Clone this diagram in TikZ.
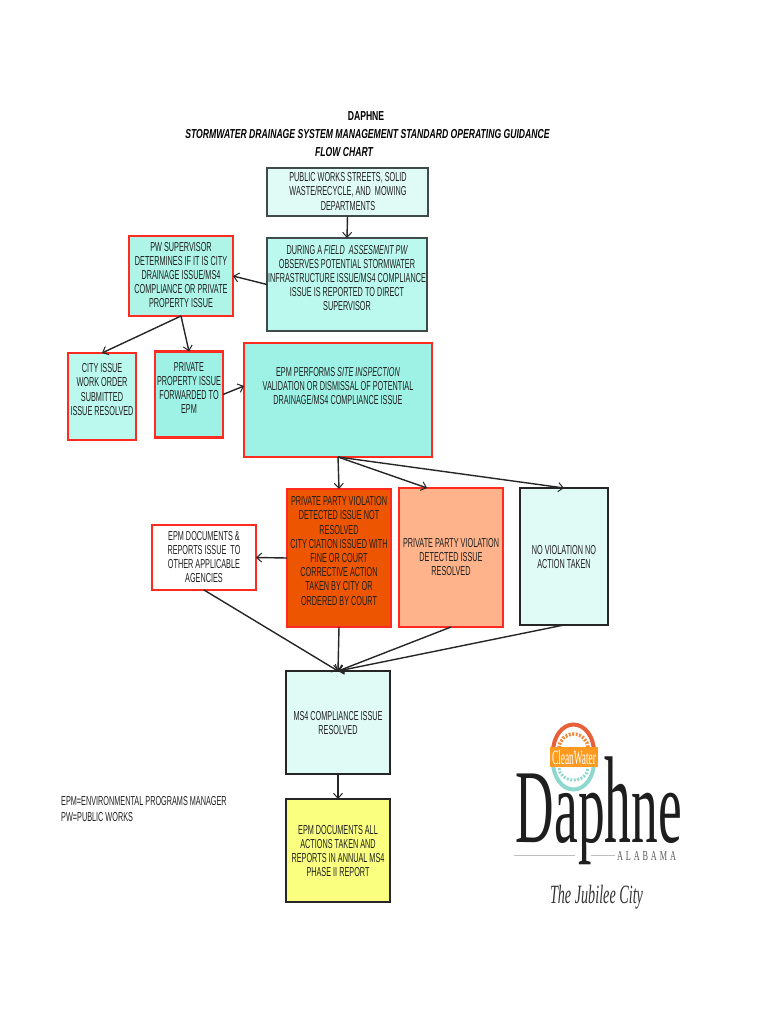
\documentclass[tikz,border=0pt]{standalone}
\usepackage{fontspec}
\usepackage{graphicx}
\usetikzlibrary{arrows.meta,calc,shapes.geometric}
\setmainfont{Liberation Serif}
\newfontfamily\nf[FakeStretch=0.56]{Liberation Sans}
\newfontfamily\nftitle[FakeStretch=0.663]{Liberation Sans}
\definecolor{txt}{HTML}{202020}
\definecolor{redline}{HTML}{FF2A20}
\definecolor{greyline}{HTML}{3F4A4A}
\definecolor{paleaqua}{HTML}{E0FAF6}
\definecolor{midaqua}{HTML}{BBF9EE}
\definecolor{pwaqua}{HTML}{AEF5E8}
\definecolor{deepaqua}{HTML}{9EF2E5}
\definecolor{burnt}{HTML}{EE5500}
\definecolor{peach}{HTML}{FFB38A}
\definecolor{lemon}{HTML}{FAFF7F}
\definecolor{logoorange}{HTML}{F08A3C}
\definecolor{logored}{HTML}{E8603A}
\definecolor{logoteal}{HTML}{8FD8D0}
\definecolor{banner}{HTML}{FF9A20}
\definecolor{logoink}{HTML}{1E1E1E}
\tikzset{
  box/.style={rectangle,inner sep=0pt,outer sep=0pt},
  greybox/.style={box,draw=greyline,line width=1.4pt},
  redbox/.style={box,draw=redline,line width=2.4pt},
  blackbox/.style={box,draw=black!85,line width=2.7pt},
  tx/.style={inner sep=0pt,align=center,text=txt,font=\nf\fontsize{13}{14.2}\selectfont},
  ttl/.style={inner sep=0pt,align=center,text=black,font=\nftitle\fontsize{13}{14}\selectfont\bfseries},
  conn/.style={draw=black!85,line width=1.4pt,-{Straight Barb[length=5pt,width=9pt,line width=1pt]}},
  logorule/.style={draw=black!25,line width=.6pt},
}
\begin{document}
\begin{tikzpicture}[x=1pt,y=-1pt]
\useasboundingbox (0,0) rectangle (770,1024);
% title
\node[ttl] (t1) at (366,116) {DAPHNE};
\node[ttl] (t2) at (367.5,134) {\itshape STORMWATER DRAINAGE SYSTEM MANAGEMENT STANDARD OPERATING GUIDANCE};
\node[ttl] (t3) at (344,152) {\itshape FLOW CHART};
% boxes
\node[greybox,fill=paleaqua,minimum width=161pt,minimum height=48pt] (top) at (347.5,192) {};
\node[greybox,fill=midaqua,minimum width=160pt,minimum height=93pt] (field) at (347,284.5) {};
\node[redbox,fill=pwaqua,minimum width=104pt,minimum height=80pt] (pw) at (181,276) {};
\node[redbox,fill=midaqua,minimum width=68pt,minimum height=87pt] (city) at (102,396.5) {};
\node[redbox,fill=deepaqua,minimum width=68pt,minimum height=86pt] (priv) at (189,394.5) {};
\node[redbox,fill=deepaqua,minimum width=188pt,minimum height=114pt] (epm) at (338,400) {};
\node[redbox,fill=burnt,minimum width=104pt,minimum height=138pt] (viol) at (339,558) {};
\node[redbox,fill=peach,minimum width=104pt,minimum height=139pt] (res) at (451,557.5) {};
\node[blackbox,fill=paleaqua,minimum width=88pt,minimum height=137pt] (none) at (564,556.5) {};
\node[redbox,fill=white,minimum width=104pt,minimum height=65pt] (docs) at (204,557.5) {};
\node[blackbox,fill=paleaqua,minimum width=104pt,minimum height=103pt] (ms) at (338,722.5) {};
\node[blackbox,fill=lemon,minimum width=104pt,minimum height=103pt] (yel) at (338,850.5) {};
% texts
\node[tx] (topT) at (348,191.5) {PUBLIC WORKS STREETS, SOLID\\WASTE/RECYCLE, AND\ \ MOWING\\DEPARTMENTS};
\node[tx] (fieldT) at (347,278) {DURING A {\itshape FIELD\ \ ASSESMENT PW}\\OBSERVES POTENTIAL STORMWATER\\INFRASTRUCTURE ISSUE/MS4 COMPLIANCE\\ISSUE IS REPORTED TO DIRECT\\SUPERVISOR};
\node[tx] (pwT) at (181,275) {PW SUPERVISOR\\DETERMINES IF IT IS CITY\\DRAINAGE ISSUE/MS4\\COMPLIANCE OR PRIVATE\\PROPERTY ISSUE};
\node[tx] (cityT) at (102,389.5) {CITY ISSUE\\WORK ORDER\\SUBMITTED\\ISSUE RESOLVED};
\node[tx] (privT) at (189,388) {PRIVATE\\PROPERTY ISSUE\\FORWARDED TO\\EPM};
\node[tx] (epmT) at (338,386) {EPM PERFORMS {\itshape SITE INSPECTION}\\VALIDATION OR DISMISSAL OF POTENTIAL\\DRAINAGE/MS4 COMPLIANCE ISSUE};
\node[tx] (violT) at (339,551) {PRIVATE PARTY VIOLATION\\DETECTED ISSUE NOT\\RESOLVED\\CITY CIATION ISSUED WITH\\FINE OR COURT\\CORRECTIVE ACTION\\TAKEN BY CITY OR\\ORDERED BY COURT};
\node[tx] (resT) at (451,557) {PRIVATE PARTY VIOLATION\\DETECTED ISSUE\\RESOLVED};
\node[tx] (noneT) at (564,557) {NO VIOLATION NO\\ACTION TAKEN};
\node[tx] (docsT) at (204,557) {EPM DOCUMENTS \&\\REPORTS ISSUE\ \ TO\\OTHER APPLICABLE\\AGENCIES};
\node[tx] (msT) at (338,723) {MS4 COMPLIANCE ISSUE\\RESOLVED};
\node[tx] (yelT) at (338,851) {EPM DOCUMENTS ALL\\ACTIONS TAKEN AND\\REPORTS IN ANNUAL MS4\\PHASE II REPORT};
\node[tx,anchor=west,align=left,font=\nf\fontsize{13}{16}\selectfont] (legend) at (61,809) {EPM=ENVIRONMENTAL PROGRAMS MANAGER\\PW=PUBLIC WORKS};
% connector ends that are not on mid-sides
\coordinate (epmIn) at ($(epm.north west)!0.377!(epm.south west)$);
\coordinate (resIn) at ($(res.north west)!0.27!(res.north east)$);
% connectors
\draw[conn] (top.south) -- (field.north);
\draw[conn] (field.west) -- (pw.east);
\draw[conn] (pw.south) -- (priv.north);
\draw[conn] (pw.south) -- (city.north);
\draw[conn] (priv.east) -- (epmIn);
\draw[conn] (epm.south) -- (viol.north);
\draw[conn] (epm.south) -- (resIn);
\draw[conn] (epm.south) -- (none.north);
\draw[conn] (viol.west) -- (docs.east);
\draw[conn] (docs.south) -- (ms.north);
\draw[conn] (viol.south) -- (ms.north);
\draw[conn] (res.south) -- (ms.north);
\draw[conn] (none.south) -- (ms.north);
\draw[conn] (ms.south) -- (yel.north);
% logo: seal
\fill[white] (573.5,756.5) ellipse (22 and 33.5);
\draw[logored,line width=4pt] (553,752) arc[x radius=20.5,y radius=27.5,start angle=180,end angle=360];
\draw[logoorange,line width=3.5pt,dash pattern=on 2pt off 1.5pt] (559,748) arc[x radius=14.5,y radius=14,start angle=180,end angle=360];
\draw[logoteal,line width=4pt] (553,762) arc[x radius=20.5,y radius=27.5,start angle=180,end angle=0];
\draw[logoteal,line width=3pt,dash pattern=on 2pt off 1.5pt] (559,768) arc[x radius=14.5,y radius=12,start angle=180,end angle=0];
\node[box,fill=banner,minimum width=48pt,minimum height=20pt] (bannerbox) at (574,757) {};
\node[inner sep=0pt,text=white] (clean) at (574,757.5) {\resizebox{44pt}{14pt}{CleanWater}};
% logo: name
\node[inner sep=0pt,text=logoink] (daphne) at (599,811) {\resizebox*{166pt}{108pt}{Dap\scalebox{1}[1.18]{h}ne}};
\node[inner sep=0pt,text=black!65] (alabama) at (646.5,856) {\resizebox{59pt}{9pt}{A\hspace{.35em}L\hspace{.35em}A\hspace{.35em}B\hspace{.35em}A\hspace{.35em}M\hspace{.35em}A}};
\coordinate (ruleA) at (514,855);
\coordinate (ruleB) at (575,855);
\coordinate (ruleC) at (591,855);
\coordinate (ruleD) at (615,855);
\draw[logorule] (ruleA) -- (ruleB);
\draw[logorule] (ruleC) -- (ruleD);
\node[inner sep=0pt,text=black!80] (jubilee) at (596.5,897) {\resizebox*{93pt}{24pt}{\itshape The Jubilee City}};
\end{tikzpicture}
\end{document}
